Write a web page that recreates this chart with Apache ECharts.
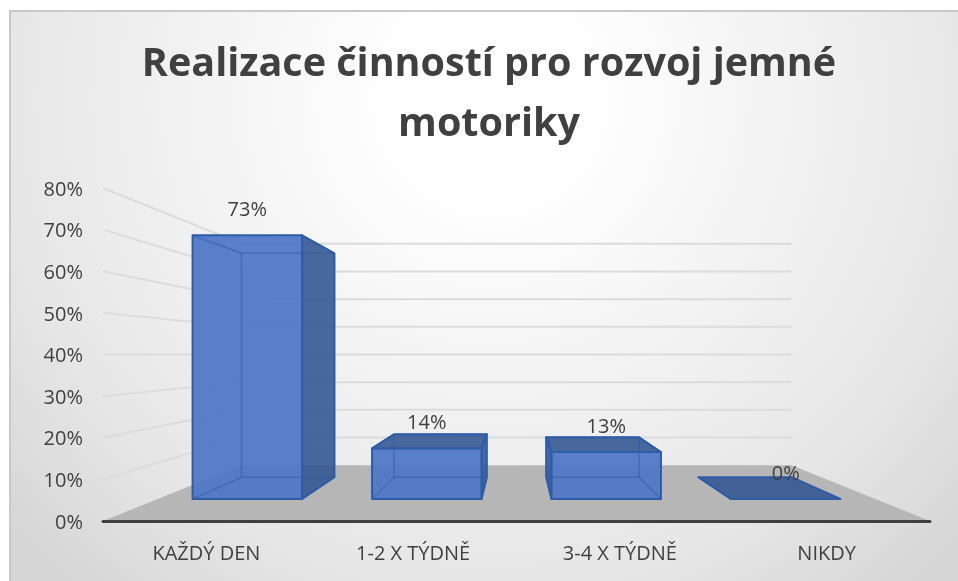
<!DOCTYPE html>
<html>
<head>
<meta charset="utf-8">
<style>html,body{margin:0;padding:0;background:#fff}#c{width:958px;height:581px}</style>
<script src="https://cdn.jsdelivr.net/npm/echarts@6/dist/echarts.min.js"></script>
</head>
<body>
<div id="c"></div>
<script>
const titleText = 'Realizace činností pro rozvoj jemné\nmotoriky';
const categories = ['KAŽDÝ DEN', '1-2 X TÝDNĚ', '3-4 X TÝDNĚ', 'NIKDY'];
const shares = [73, 14, 13, 0];
const gridTicks = [10, 20, 30, 40, 50, 60, 70, 80];

const FONT = '"Open Sans", "Noto Sans", sans-serif';
const TEXT = '#404040';
const WALL_DEPTH = 0.665, BAR_FRONT = 0.868, BAR_BACK = 0.737, BAR_WIDTH = 0.61;

function projector(params) {
  const cs = params.coordSys;
  const vx = cs.x + cs.width / 2, vy = cs.y + cs.height / 2;
  return (p, s) => [vx + (p[0] - vx) * s, vy + (p[1] - vy) * s];
}

function renderFloor(params, api) {
  const cs = params.coordSys, P = projector(params);
  const a = [cs.x, cs.y + cs.height], b = [cs.x + cs.width, cs.y + cs.height];
  return {
    type: 'polygon',
    shape: { points: [a, b, P(b, WALL_DEPTH), P(a, WALL_DEPTH)] },
    style: { fill: '#b6b6b6' }
  };
}

function renderGrid(params, api) {
  const cs = params.coordSys, P = projector(params);
  const y = api.coord([0, api.value(1)])[1];
  const l = [cs.x, y], r = [cs.x + cs.width, y];
  const bl = P(l, WALL_DEPTH), br = P(r, WALL_DEPTH);
  return {
    type: 'polyline',
    shape: { points: [l, bl, br] },
    style: { fill: null, stroke: '#dcdcdc', lineWidth: 2 }
  };
}

function renderBar(params, api) {
  const P = projector(params);
  const i = api.value(0), v = api.value(1);
  const c = api.coord([i, v]), base = api.coord([i, 0]);
  const half = api.size([1, 0])[0] * BAR_WIDTH / 2;
  const pt = (dx, y, s) => P([c[0] + dx, y], s);
  const fbl = pt(-half, base[1], BAR_FRONT), fbr = pt(half, base[1], BAR_FRONT);
  const ftl = pt(-half, c[1], BAR_FRONT), ftr = pt(half, c[1], BAR_FRONT);
  const bbl = pt(-half, base[1], BAR_BACK), bbr = pt(half, base[1], BAR_BACK);
  const btl = pt(-half, c[1], BAR_BACK), btr = pt(half, c[1], BAR_BACK);
  const edge = '#2f5ca8', dark = 'rgba(52,88,148,0.9)', front = 'rgba(78,118,198,0.93)';
  const poly = (pts, fill) => ({ type: 'polygon', shape: { points: pts }, style: { fill, stroke: edge, lineWidth: 2, lineJoin: 'round' } });
  const line = (a, b) => ({ type: 'line', shape: { x1: a[0], y1: a[1], x2: b[0], y2: b[1] }, style: { stroke: 'rgba(47,92,168,0.55)', lineWidth: 1.5 } });
  const children = [];
  if (btr[0] > ftr[0]) children.push(poly([ftr, btr, bbr, fbr], dark));
  if (btl[0] < ftl[0]) children.push(poly([ftl, btl, bbl, fbl], dark));
  if (btl[1] < ftl[1] || v === 0) children.push(poly([ftl, ftr, btr, btl], dark));
  if (v > 0) {
    children.push(poly([ftl, ftr, fbr, fbl], front));
    children.push(line(btl, bbl), line(btr, bbr), line(bbl, bbr), line(btl, btr),
                  line(ftl, btl), line(ftr, btr), line(fbl, bbl), line(fbr, bbr));
  }
  children.push({
    type: 'text',
    style: {
      text: v + '%', x: (ftl[0] + ftr[0]) / 2, y: ftl[1] - 25,
      align: 'center', verticalAlign: 'middle',
      fontSize: 20, fontFamily: FONT, fill: TEXT
    }
  });
  return { type: 'group', children };
}

const chart = echarts.init(document.getElementById('c'), null, { renderer: 'canvas' });
chart.setOption({
  animation: false,
  graphic: [{
    type: 'rect', z: -10, silent: true,
    shape: { x: 10, y: 11, width: 960, height: 590 },
    style: {
      stroke: '#c9c9c9', lineWidth: 2,
      fill: {
        type: 'radial', x: 0.5, y: 0.15, r: 1.08,
        colorStops: [
          { offset: 0, color: '#ffffff' }, { offset: 0.15, color: '#ffffff' },
          { offset: 0.75, color: '#e7e7e7' }, { offset: 0.95, color: '#dadada' }, { offset: 1, color: '#d6d6d6' }
        ]
      }
    }
  }],
  title: {
    text: titleText, left: 484, top: 30, textAlign: 'center',
    textStyle: { fontFamily: FONT, fontSize: 39.5, fontWeight: 700, color: TEXT, lineHeight: 60 }
  },
  grid: { left: 103, right: 28, top: 188, bottom: 60 },
  xAxis: {
    type: 'category', data: categories, z: 10,
    axisTick: { show: false },
    axisLine: { lineStyle: { color: TEXT, width: 3, cap: 'round' } },
    axisLabel: { fontFamily: FONT, fontSize: 20, color: TEXT, margin: 23 }
  },
  yAxis: {
    type: 'value', min: 0, max: 80, interval: 10,
    axisLine: { show: false }, axisTick: { show: false }, splitLine: { show: false },
    axisLabel: {
      formatter: '{t|{value}%}', margin: 20,
      rich: { t: { fontFamily: FONT, fontSize: 20, color: TEXT, padding: [4, 0, 0, 0] } }
    }
  },
  series: [
    { type: 'custom', z: 1, silent: true, clip: false, renderItem: renderFloor, data: [[0, 0]], encode: { x: 0, y: 1 } },
    { type: 'custom', z: 2, silent: true, clip: false, renderItem: renderGrid, data: gridTicks.map(t => [0, t]), encode: { x: 0, y: 1 } },
    { type: 'custom', z: 3, silent: true, clip: false, renderItem: renderBar, data: shares.map((v, i) => [i, v]), encode: { x: 0, y: 1 } }
  ]
});
</script>
</body>
</html>
